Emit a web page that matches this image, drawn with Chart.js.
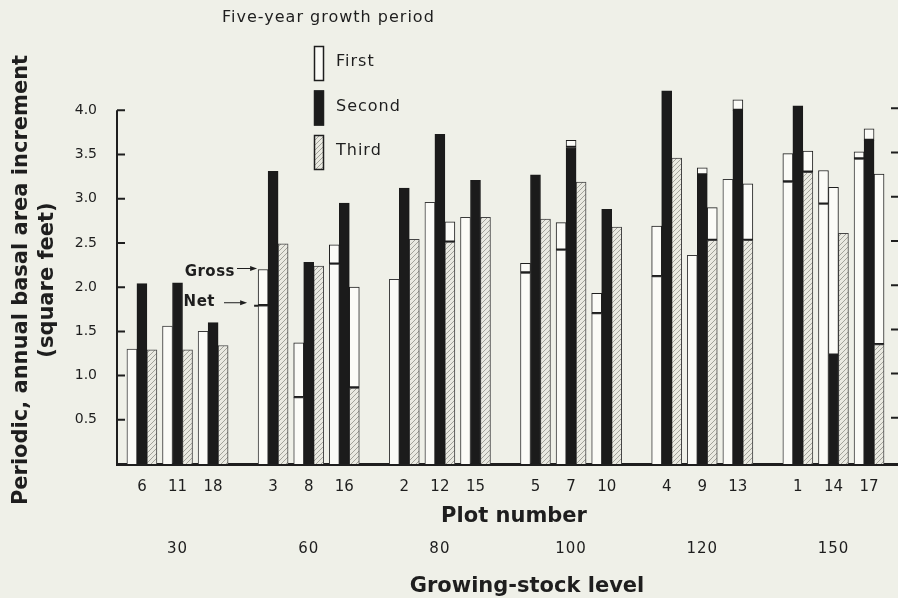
<!DOCTYPE html>
<html>
<head>
<meta charset="utf-8">
<script src="https://cdn.jsdelivr.net/npm/chart.js@4.4.1/dist/chart.umd.min.js"></script>
<style>
  html, body { margin: 0; padding: 0; background: #eff0e8; }
  #wrap { width: 898px; height: 598px; }
</style>
</head>
<body>
<div id="wrap"><canvas id="chart" width="898" height="598"></canvas></div>
<script>
// plots in order along the axis, three per growing-stock level
const plots = ['6', '11', '18', '3', '8', '16', '2', '12', '15', '5', '7', '10', '4', '9', '13', '1', '14', '17'];
const levels = ['30', '60', '80', '100', '120', '150'];
const periods = ['First', 'Second', 'Third'];

// gross and net periodic annual basal area increment (sq ft)
const firstGross  = [1.30, 1.56, 1.50, 2.20, 1.37, 2.48, 2.09, 2.96, 2.79, 2.27, 2.73, 1.93, 2.69, 2.36, 3.22, 3.51, 3.32, 3.53];
const firstNet    = [1.30, 1.56, 1.50, 1.79, 0.75, 2.26, 2.09, 2.96, 2.79, 2.16, 2.42, 1.70, 2.12, 2.36, 3.22, 3.19, 2.94, 3.45];
const secondGross = [2.04, 2.05, 1.60, 3.31, 2.28, 2.95, 3.12, 3.73, 3.21, 3.27, 3.66, 2.88, 4.22, 3.35, 4.12, 4.05, 3.13, 3.79];
const secondNet   = [2.04, 2.05, 1.60, 3.31, 2.28, 2.95, 3.12, 3.73, 3.21, 3.27, 3.58, 2.88, 4.22, 3.27, 4.00, 4.05, 1.23, 3.66];
const thirdGross  = [1.29, 1.29, 1.34, 2.49, 2.24, 2.00, 2.54, 2.74, 2.79, 2.77, 3.19, 2.68, 3.46, 2.90, 3.17, 3.54, 2.61, 3.28];
const thirdNet    = [1.29, 1.29, 1.34, 2.49, 2.24, 0.86, 2.54, 2.51, 2.79, 2.77, 3.19, 2.68, 3.46, 2.53, 2.53, 3.30, 2.61, 1.35];

const yTickValues = [0.5, 1.0, 1.5, 2.0, 2.5, 3.0, 3.5, 4.0];

const INK = '#1e1e1e';
const WHITE = '#fbfbf7';
const FONT = '"DejaVu Sans", sans-serif';

// extra space between level groups, in plot slots
const groupGap = 0.685;
const plotPos = plots.map((p, i) => i + Math.floor(i / 3) * groupGap);

const canvas = document.getElementById('chart');
const ctx0 = canvas.getContext('2d');

function makeHatch() {
  const s = 5;
  const c = document.createElement('canvas');
  c.width = s; c.height = s;
  const g = c.getContext('2d');
  g.fillStyle = '#e9e9e1';
  g.fillRect(0, 0, s, s);
  g.strokeStyle = '#a2a29a';
  g.lineWidth = 1;
  g.beginPath();
  g.moveTo(-1, s + 1); g.lineTo(s + 1, -1);
  g.moveTo(-1, 1); g.lineTo(1, -1);
  g.moveTo(s - 1, s + 1); g.lineTo(s + 1, s - 1);
  g.stroke();
  return ctx0.createPattern(c, 'repeat');
}
const hatch = makeHatch();

const points = vals => vals.map((v, i) => ({ x: plotPos[i], y: v }));
const diff = (g, n) => g.map((v, i) => +(v - n[i]).toFixed(2));

const lossBorder = { top: 1, left: 1, right: 1, bottom: 2 };

const datasets = [
  { label: 'First net', stack: 'p1', data: points(firstNet), backgroundColor: WHITE, borderColor: '#3a3a3a', borderWidth: 1 },
  { label: 'First gross', stack: 'p1', data: points(diff(firstGross, firstNet)), backgroundColor: WHITE, borderColor: INK, borderWidth: lossBorder, borderSkipped: false },
  { label: 'Second net', stack: 'p2', data: points(secondNet), backgroundColor: '#1b1b1b', borderColor: '#1b1b1b', borderWidth: 1 },
  { label: 'Second gross', stack: 'p2', data: points(diff(secondGross, secondNet)), backgroundColor: WHITE, borderColor: INK, borderWidth: lossBorder, borderSkipped: false },
  { label: 'Third net', stack: 'p3', data: points(thirdNet), backgroundColor: hatch, borderColor: '#454545', borderWidth: 1 },
  { label: 'Third gross', stack: 'p3', data: points(diff(thirdGross, thirdNet)), backgroundColor: WHITE, borderColor: INK, borderWidth: lossBorder, borderSkipped: false }
];

function arrow(ctx, x1, x2, y) {
  ctx.beginPath();
  ctx.moveTo(x1, y); ctx.lineTo(x2 - 5, y);
  ctx.stroke();
  ctx.beginPath();
  ctx.moveTo(x2, y); ctx.lineTo(x2 - 7, y - 2.5); ctx.lineTo(x2 - 7, y + 2.5);
  ctx.closePath();
  ctx.fill();
}

// axis frame, legend, notes and the lower labels
const decor = {
  id: 'decor',
  afterDraw(chart) {
    const { ctx, chartArea, scales: { x, y } } = chart;
    const y0 = y.getPixelForValue(0);
    const yTop = y.getPixelForValue(yTickValues[yTickValues.length - 1]);
    ctx.save();
    ctx.strokeStyle = INK;
    ctx.fillStyle = INK;

    // left axis with inward ticks, tick marks on the right edge
    ctx.lineWidth = 2;
    ctx.beginPath();
    ctx.moveTo(chartArea.left, y0 + 2);
    ctx.lineTo(chartArea.left, yTop);
    yTickValues.forEach(v => {
      const py = y.getPixelForValue(v);
      ctx.moveTo(chartArea.left, py); ctx.lineTo(chartArea.left + 8, py);
      ctx.moveTo(chartArea.right + 1, py - 2); ctx.lineTo(chartArea.right - 6, py - 2);
    });
    ctx.stroke();

    // y title
    ctx.font = 'bold 21px ' + FONT;
    ctx.textAlign = 'center';
    ctx.textBaseline = 'middle';
    ctx.save();
    ctx.translate(22, 280);
    ctx.rotate(-Math.PI / 2);
    ctx.fillText('Periodic, annual basal area increment', 0, 0);
    ctx.fillText('(square feet)', 0, 26);
    ctx.restore();

    // x captions
    ctx.fillText('Plot number', 514, 517);
    ctx.fillText('Growing-stock level', 527, 587);
    ctx.font = '15px ' + FONT;
    ctx.letterSpacing = '1px';
    levels.forEach((lv, g) => {
      ctx.fillText(lv, x.getPixelForValue(plotPos[g * 3 + 1]), 549);
    });

    // legend
    ctx.textAlign = 'left';
    ctx.font = '16px ' + FONT;
    ctx.fillText('Five-year growth period', 222, 18);
    const fills = [WHITE, '#1b1b1b', hatch];
    periods.forEach((name, k) => {
      const top = 46 + k * 44.5;
      ctx.fillStyle = fills[k];
      ctx.fillRect(314, top, 10, 35);
      ctx.lineWidth = 1.5;
      ctx.strokeRect(314.5, top + 0.5, 9, 34);
      ctx.fillStyle = INK;
      ctx.fillText(name, 336, top + 16);
    });

    // gross / net note on plot 3
    const idx = plots.indexOf('3');
    const bar = chart.getDatasetMeta(0).data[idx];
    const barLeft = bar.x - bar.width / 2;
    const gy = y.getPixelForValue(firstGross[idx]);
    const ny = y.getPixelForValue(firstNet[idx]);
    ctx.letterSpacing = '0.5px';
    ctx.font = 'bold 15px ' + FONT;
    ctx.textAlign = 'right';
    ctx.fillText('Gross', 235, gy + 3);
    ctx.fillText('Net', 215, ny - 4);
    ctx.lineWidth = 1;
    arrow(ctx, 237, barLeft - 1, gy - 1);
    arrow(ctx, 224, barLeft - 11, ny - 3);
    ctx.lineWidth = 2;
    ctx.beginPath();
    ctx.moveTo(barLeft - 4, ny); ctx.lineTo(barLeft, ny);
    ctx.stroke();
    ctx.restore();
  }
};

new Chart(canvas, {
  type: 'bar',
  data: { datasets },
  options: {
    responsive: false,
    animation: false,
    layout: { padding: { top: 75, left: 4, right: 1, bottom: 0 } },
    datasets: { bar: { barThickness: 10, grouped: true } },
    plugins: { legend: { display: false }, tooltip: { enabled: false } },
    scales: {
      x: {
        type: 'linear',
        offset: false,
        min: -0.70,
        max: 21.21,
        grid: { display: false, drawTicks: false },
        border: { display: true, color: INK, width: 3 },
        afterBuildTicks: scale => { scale.ticks = plotPos.map(v => ({ value: v })); },
        ticks: {
          autoSkip: false,
          maxRotation: 0,
          padding: 14,
          color: INK,
          font: { family: FONT, size: 15 },
          callback: (v, i) => plots[i]
        },
        afterFit: scale => { scale.height = 134; }
      },
      y: {
        min: 0,
        max: 4.4,
        stacked: true,
        grid: { display: false, drawTicks: false },
        border: { display: false },
        afterBuildTicks: scale => { scale.ticks = yTickValues.map(v => ({ value: v })); },
        ticks: {
          padding: 20,
          color: INK,
          font: { family: FONT, size: 14 },
          callback: v => v.toFixed(1)
        },
        afterFit: scale => { scale.width = 113; }
      }
    }
  },
  plugins: [decor]
});
</script>
</body>
</html>
